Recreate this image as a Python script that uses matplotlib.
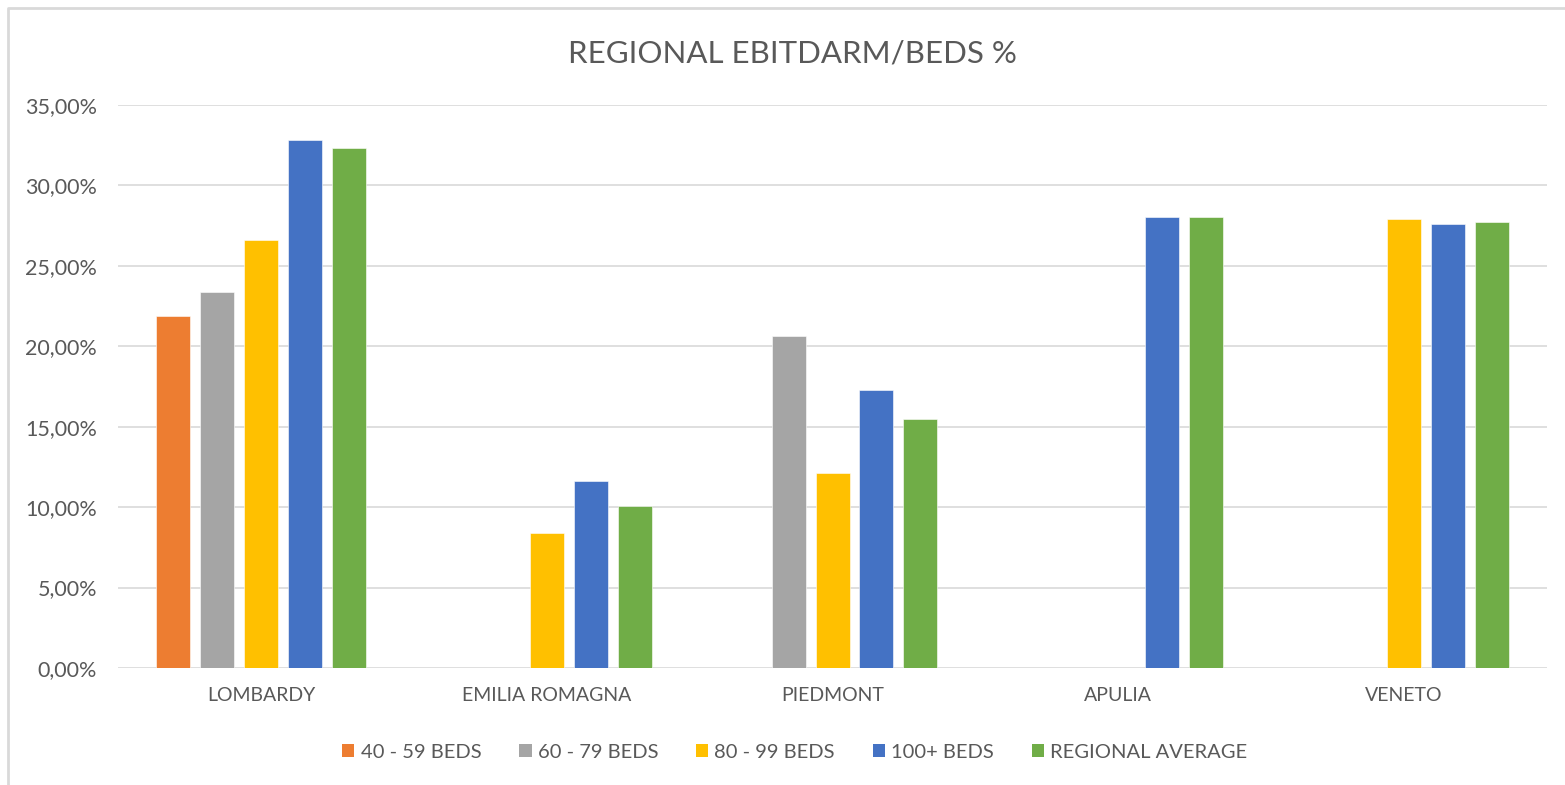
import matplotlib.pyplot as plt
import numpy as np
from matplotlib.lines import Line2D
from matplotlib.patches import Patch
from matplotlib.ticker import FuncFormatter

plt.rcParams['font.family'] = ['Lato', 'DejaVu Sans']

regions = ['LOMBARDY', 'EMILIA ROMAGNA', 'PIEDMONT', 'APULIA', 'VENETO']
series_names = ['40 - 59 BEDS', '60 - 79 BEDS', '80 - 99 BEDS', '100+ BEDS', 'REGIONAL AVERAGE']
series_colors = ['#ED7D31', '#A5A5A5', '#FFC000', '#4472C4', '#70AD47']

# values in %, nan where a region has no facility in that bracket
beds_40_59 = [21.9, np.nan, np.nan, np.nan, np.nan]
beds_60_79 = [23.35, np.nan, 20.65, np.nan, np.nan]
beds_80_99 = [26.6, 8.4, 12.15, np.nan, 27.9]
beds_100 = [32.8, 11.6, 17.3, 28.05, 27.6]
regional_avg = [32.3, 10.1, 15.5, 28.05, 27.7]
series_values = [beds_40_59, beds_60_79, beds_80_99, beds_100, regional_avg]

W, H = 1565, 785
fig = plt.figure(figsize=(W / 100, H / 100), dpi=100)
ax = fig.add_axes([118 / W, 1 - 668 / H, (1547 - 118) / W, (668 - 105) / H])

txt = '#595959'
grid = '#D9D9D9'

x = np.arange(len(regions))
bar_w = 34 / 285.8
step = 44 / 285.8
for i, (vals, col) in enumerate(zip(series_values, series_colors)):
    ax.bar(x + (i - 2) * step, vals, width=bar_w, color=col,
           edgecolor='white', linewidth=0.4, zorder=3)

ax.set_xlim(-0.5, len(regions) - 0.5)
ax.set_ylim(0, 35)
ax.set_yticks(np.arange(0, 36, 5))
ax.yaxis.set_major_formatter(FuncFormatter(lambda v, p: f'{v:.2f}%'.replace('.', ',')))
ax.set_xticks(x)
ax.set_xticklabels(regions)
ax.grid(axis='y', color=grid, linewidth=1.2, zorder=0)
for s in ax.spines.values():
    s.set_visible(False)
ax.tick_params(length=0, colors=txt, labelsize=14)
ax.tick_params(axis='y', pad=15, labelsize=15.5)
ax.tick_params(axis='x', pad=14)

fig.text(792 / W, 1 - 53 / H, 'REGIONAL EBITDARM/BEDS %', ha='center', va='center',
         fontsize=22.5, color=txt)

handles = [Patch(facecolor=c, edgecolor='none') for c in series_colors]
fig.legend(handles, series_names, loc='center', bbox_to_anchor=(795 / W, 1 - 752 / H),
           ncol=5, frameon=False, fontsize=14.5, labelcolor=txt,
           handlelength=0.6, handleheight=0.6, handletextpad=0.3, columnspacing=1.9)

# chart frame (only top and left edges visible in crop)
fig.add_artist(Line2D([7.5 / W, 7.5 / W, 1], [0, 1 - 7.5 / H, 1 - 7.5 / H],
                      color=grid, linewidth=2, transform=fig.transFigure))

fig.savefig('out.png', dpi=100, facecolor='white')
